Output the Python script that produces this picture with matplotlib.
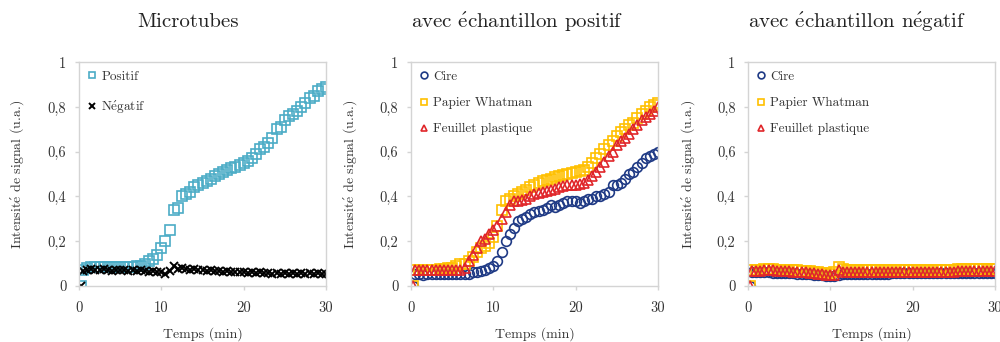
import numpy as np
import matplotlib
matplotlib.use('Agg')
import matplotlib.pyplot as plt

plt.rcParams['font.family'] = ['cmr10', 'DejaVu Serif']
plt.rcParams['mathtext.fontset'] = 'cm'
plt.rcParams['axes.unicode_minus'] = False

# time axis (min): first point at origin, then every 0.5 min
t = np.concatenate([[0.2], np.arange(0.5, 30.01, 0.5)])

positif = [0.07, 0.08, 0.085, 0.085, 0.085, 0.085, 0.085, 0.085, 0.085, 0.085,
           0.085, 0.085, 0.085, 0.09, 0.09, 0.10, 0.11, 0.12, 0.14, 0.17,
           0.20, 0.25, 0.34, 0.35, 0.40, 0.41, 0.42, 0.44, 0.45, 0.46,
           0.47, 0.48, 0.49, 0.50, 0.51, 0.52, 0.525, 0.53, 0.54, 0.55,
           0.56, 0.57, 0.59, 0.61, 0.62, 0.64, 0.66, 0.70, 0.71, 0.74,
           0.76, 0.77, 0.78, 0.80, 0.82, 0.84, 0.85, 0.87, 0.88, 0.89]
negatif = [0.065, 0.07, 0.075, 0.072, 0.07, 0.075, 0.072, 0.068, 0.073, 0.07,
           0.072, 0.068, 0.07, 0.066, 0.07, 0.068, 0.064, 0.067, 0.063, 0.06,
           0.055, 0.065, 0.09, 0.075, 0.078, 0.075, 0.072, 0.074, 0.07, 0.072,
           0.068, 0.07, 0.066, 0.068, 0.064, 0.066, 0.062, 0.064, 0.06, 0.062,
           0.058, 0.061, 0.057, 0.06, 0.056, 0.059, 0.055, 0.058, 0.054, 0.057,
           0.053, 0.057, 0.054, 0.056, 0.052, 0.057, 0.054, 0.056, 0.052, 0.055]

cire_pos = [0.055, 0.055, 0.05, 0.055, 0.055, 0.055, 0.055, 0.055, 0.055, 0.055,
            0.055, 0.055, 0.055, 0.055, 0.06, 0.06, 0.065, 0.07, 0.08, 0.09,
            0.11, 0.15, 0.20, 0.23, 0.26, 0.29, 0.30, 0.31, 0.32, 0.33,
            0.335, 0.34, 0.35, 0.36, 0.355, 0.36, 0.37, 0.38, 0.38, 0.38,
            0.37, 0.38, 0.39, 0.39, 0.40, 0.40, 0.41, 0.42, 0.45, 0.45,
            0.46, 0.48, 0.50, 0.51, 0.53, 0.55, 0.57, 0.58, 0.59, 0.60]
papier_pos = [0.07, 0.07, 0.07, 0.07, 0.07, 0.07, 0.075, 0.075, 0.08, 0.08,
              0.09, 0.10, 0.10, 0.11, 0.13, 0.15, 0.17, 0.18, 0.19, 0.22,
              0.27, 0.34, 0.38, 0.39, 0.40, 0.41, 0.42, 0.43, 0.44, 0.45,
              0.46, 0.47, 0.475, 0.48, 0.485, 0.49, 0.495, 0.50, 0.505, 0.51,
              0.515, 0.52, 0.53, 0.55, 0.57, 0.59, 0.61, 0.63, 0.65, 0.67,
              0.69, 0.70, 0.72, 0.73, 0.75, 0.77, 0.78, 0.80, 0.81, 0.82]
feuillet_pos = [0.07, 0.07, 0.07, 0.07, 0.07, 0.07, 0.07, 0.07, 0.07, 0.07,
                0.07, 0.07, 0.08, 0.11, 0.14, 0.17, 0.20, 0.21, 0.23, 0.25,
                0.27, 0.30, 0.33, 0.36, 0.38, 0.38, 0.385, 0.39, 0.40, 0.41,
                0.415, 0.42, 0.425, 0.43, 0.435, 0.44, 0.445, 0.45, 0.45, 0.45,
                0.455, 0.46, 0.475, 0.49, 0.51, 0.53, 0.555, 0.58, 0.60, 0.63,
                0.65, 0.66, 0.68, 0.70, 0.72, 0.74, 0.755, 0.77, 0.78, 0.80]

cire_neg = [0.06, 0.06, 0.06, 0.06, 0.06, 0.058, 0.058, 0.058, 0.058, 0.056,
            0.056, 0.055, 0.055, 0.054, 0.052, 0.05, 0.05, 0.048, 0.046, 0.045,
            0.045, 0.05, 0.055, 0.055, 0.055, 0.055, 0.055, 0.055, 0.055, 0.055,
            0.055, 0.055, 0.055, 0.055, 0.056, 0.056, 0.056, 0.056, 0.056, 0.056,
            0.056, 0.056, 0.056, 0.056, 0.056, 0.056, 0.057, 0.057, 0.057, 0.057,
            0.057, 0.057, 0.058, 0.058, 0.058, 0.058, 0.058, 0.058, 0.058, 0.058]
papier_neg = [0.07, 0.07, 0.072, 0.075, 0.075, 0.075, 0.073, 0.072, 0.072, 0.07,
              0.07, 0.07, 0.068, 0.066, 0.065, 0.063, 0.06, 0.058, 0.057, 0.055,
              0.06, 0.085, 0.075, 0.07, 0.07, 0.07, 0.07, 0.07, 0.07, 0.07,
              0.07, 0.07, 0.07, 0.07, 0.07, 0.07, 0.07, 0.07, 0.07, 0.07,
              0.07, 0.07, 0.07, 0.07, 0.07, 0.072, 0.072, 0.072, 0.072, 0.072,
              0.075, 0.075, 0.075, 0.075, 0.075, 0.075, 0.075, 0.075, 0.075, 0.075]
feuillet_neg = [0.065, 0.065, 0.068, 0.07, 0.07, 0.07, 0.068, 0.067, 0.066, 0.065,
                0.064, 0.063, 0.062, 0.06, 0.058, 0.056, 0.055, 0.053, 0.05, 0.048,
                0.05, 0.07, 0.06, 0.06, 0.06, 0.06, 0.06, 0.06, 0.06, 0.06,
                0.06, 0.06, 0.06, 0.061, 0.061, 0.061, 0.061, 0.061, 0.061, 0.061,
                0.062, 0.062, 0.062, 0.062, 0.062, 0.063, 0.063, 0.063, 0.064, 0.064,
                0.065, 0.065, 0.065, 0.066, 0.066, 0.066, 0.067, 0.067, 0.068, 0.068]

# é drawn through mathtext so it stays in Computer Modern
E = r'$\mathrm{\acute{e}}$'
titles = ['Microtubes', 'avec ' + E + 'chantillon positif', 'avec ' + E + 'chantillon n' + E + 'gatif']
ylabel = 'Intensit' + E + ' de signal (u.a.)'
yticks = [0, 0.2, 0.4, 0.6, 0.8, 1]
ytick_labels = ['0', '0,2', '0,4', '0,6', '0,8', '1']
xticks = [0, 10, 20, 30]

BLUE = '#4bacc6'
NAVY = '#1f3a85'
GOLD = '#ffc000'
RED = '#e0262a'
GRID = '#d4d4d4'


def with_origin(vals):
    return [0.0] + list(vals)


fig = plt.figure(figsize=(10, 3.42), dpi=100)
lefts = [0.079, 0.411, 0.748]
axes = [fig.add_axes([l, 0.164, 0.247, 0.654]) for l in lefts]

ax = axes[0]
ax.plot(t, with_origin(positif), 's', ms=6.5, mfc='none', mec=BLUE, mew=1.2, label='Positif')
ax.plot(t, with_origin(negatif), 'x', ms=6, color='black', mew=1.4, label='N' + E + 'gatif')

series = [('Cire', 'o', NAVY, 7), ('Papier Whatman', 's', GOLD, 7),
          ('Feuillet plastique', '^', RED, 6.5)]
for ax, data in zip(axes[1:], [(cire_pos, papier_pos, feuillet_pos),
                               (cire_neg, papier_neg, feuillet_neg)]):
    for (name, mk, col, ms), vals in zip(series, data):
        ax.plot(t, with_origin(vals), mk, ms=ms, mfc='none', mec=col, mew=1.2, label=name)

title_x = [0.188, 0.517, 0.857]
ylab_x = [0.017, 0.350, 0.688]
for i, ax in enumerate(axes):
    ax.set_xlim(0, 30)
    ax.set_ylim(0, 1)
    ax.set_xticks(xticks)
    ax.set_yticks(yticks)
    ax.set_yticklabels(ytick_labels)
    for s in ax.spines.values():
        s.set_color(GRID)
        s.set_linewidth(1.0)
    ax.tick_params(colors=GRID, labelcolor='#333333', labelsize=10.5, length=3, width=1)
    ax.tick_params(axis='x', pad=8)
    ax.tick_params(axis='y', pad=6)
    ax.set_xlabel('Temps (min)', fontsize=10, color='#333333', labelpad=9)
    fig.text(ylab_x[i], 0.49, ylabel, rotation=90,
             ha='center', va='center', fontsize=10, color='#333333')
    fig.text(title_x[i], 0.935, titles[i], ha='center', va='center', fontsize=15, color='#222222')
    leg = ax.legend(loc='upper left', frameon=False, fontsize=9.5, markerscale=0.7,
                    handlelength=0.6, handletextpad=0.45, labelspacing=1.05 if i else 1.2,
                    borderaxespad=0.25)
    for txt in leg.get_texts():
        txt.set_color('#333333')

fig.savefig('out.png', dpi=100)
